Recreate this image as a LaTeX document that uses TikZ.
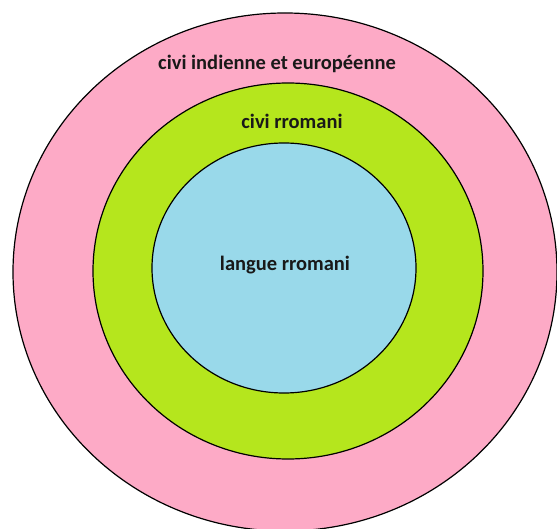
\documentclass[tikz,border=0pt]{standalone}
\usepackage{fontspec}
\setmainfont{Carlito}
\usetikzlibrary{shapes.geometric}
\definecolor{outerpink}{HTML}{FDAAC6}
\definecolor{midgreen}{HTML}{B5E61D}
\definecolor{innerblue}{HTML}{99D9EA}
\tikzset{
  ring/.style={ellipse, draw=black, line width=1.2pt, inner sep=0pt},
  lbl/.style={font=\bfseries\fontsize{20.5}{24}\selectfont, text=black!90, inner sep=0pt}
}
\begin{document}
\begin{tikzpicture}[x=1pt,y=-1pt]
\useasboundingbox (0,0) rectangle (557,529);
\node[ring, fill=outerpink, minimum width=544pt, minimum height=518pt] (outer) at (285,272) {};
\node[ring, fill=midgreen, minimum width=390pt, minimum height=376pt] (middle) at (288,271) {};
\node[ring, fill=innerblue, minimum width=264pt, minimum height=250pt] (inner) at (284,268) {};
\node[lbl] (t1) at (277,64) {civi indienne et européenne};
\node[lbl] (t2) at (292,121) {civi rromani};
\node[lbl] (t3) at (285,265) {langue rromani};
\end{tikzpicture}
\end{document}
